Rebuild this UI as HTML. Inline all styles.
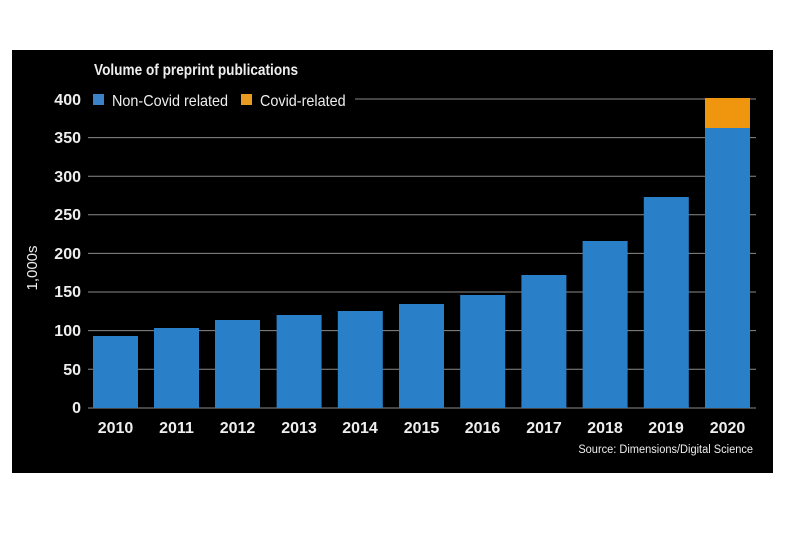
<!DOCTYPE html>
<html><head><meta charset="utf-8"><style>
html,body{margin:0;padding:0;background:#fff;}
svg{display:block;}
text{font-family:"Liberation Sans",sans-serif;fill:#eee;}
</style></head><body>
<svg width="785" height="543" viewBox="0 0 785 543">
<rect x="12" y="50" width="761" height="423" fill="#000"/>
<text x="94" y="75" font-size="15.5" font-weight="bold" transform="translate(94 0) scale(0.88 1) translate(-94 0)">Volume of preprint publications</text>
<g stroke="#8a8a8a" stroke-width="1">
<line x1="88" x2="756" y1="99" y2="99"/>
<line x1="88" x2="756" y1="137.6" y2="137.6"/>
<line x1="88" x2="756" y1="176.2" y2="176.2"/>
<line x1="88" x2="756" y1="214.8" y2="214.8"/>
<line x1="88" x2="756" y1="253.4" y2="253.4"/>
<line x1="88" x2="756" y1="292" y2="292"/>
<line x1="88" x2="756" y1="330.6" y2="330.6"/>
<line x1="88" x2="756" y1="369.2" y2="369.2"/>
<line x1="88" x2="756" y1="408" y2="408"/>
</g>
<rect x="88" y="90" width="267" height="20" fill="#000"/>
<rect x="93" y="94" width="11" height="11" fill="#3b82c8"/>
<text x="112" y="106" font-size="16" transform="translate(112 0) scale(0.9 1) translate(-112 0)">Non-Covid related</text>
<rect x="241" y="94" width="11" height="11" fill="#e99a20"/>
<text x="260" y="106" font-size="16" transform="translate(260 0) scale(0.9 1) translate(-260 0)">Covid-related</text>
<g font-size="16" text-anchor="end" font-weight="bold">
<text x="81" y="105">400</text><text x="81" y="143">350</text><text x="81" y="182">300</text>
<text x="81" y="220">250</text><text x="81" y="259">200</text><text x="81" y="297">150</text>
<text x="81" y="336">100</text><text x="81" y="375">50</text><text x="81" y="413">0</text>
</g>
<text transform="translate(37 268) rotate(-90)" font-size="15" text-anchor="middle">1,000s</text>
<g fill="#2a80c8">
<rect x="93" y="336" width="45" height="72"/>
<rect x="154" y="328" width="45" height="80"/>
<rect x="215" y="320" width="45" height="88"/>
<rect x="276.6" y="315" width="45" height="93"/>
<rect x="337.8" y="311" width="45" height="97"/>
<rect x="399" y="304" width="45" height="104"/>
<rect x="460.2" y="295" width="45" height="113"/>
<rect x="521.4" y="275" width="45" height="133"/>
<rect x="582.6" y="241" width="45" height="167"/>
<rect x="643.8" y="197" width="45" height="211"/>
<rect x="705" y="128" width="45" height="280"/>
</g>
<rect x="705" y="98" width="45" height="30" fill="#f0960e"/>
<g font-size="16" text-anchor="middle" font-weight="bold">
<text x="115.5" y="433">2010</text><text x="176.5" y="433">2011</text><text x="237.5" y="433">2012</text>
<text x="299" y="433">2013</text><text x="360" y="433">2014</text><text x="421.5" y="433">2015</text>
<text x="482.5" y="433">2016</text><text x="544" y="433">2017</text><text x="605" y="433">2018</text>
<text x="666" y="433">2019</text><text x="727.5" y="433">2020</text>
</g>
<text x="753" y="453" font-size="12" text-anchor="end" transform="translate(753 0) scale(0.92 1) translate(-753 0)">Source: Dimensions/Digital Science</text>
</svg>
</body></html>
